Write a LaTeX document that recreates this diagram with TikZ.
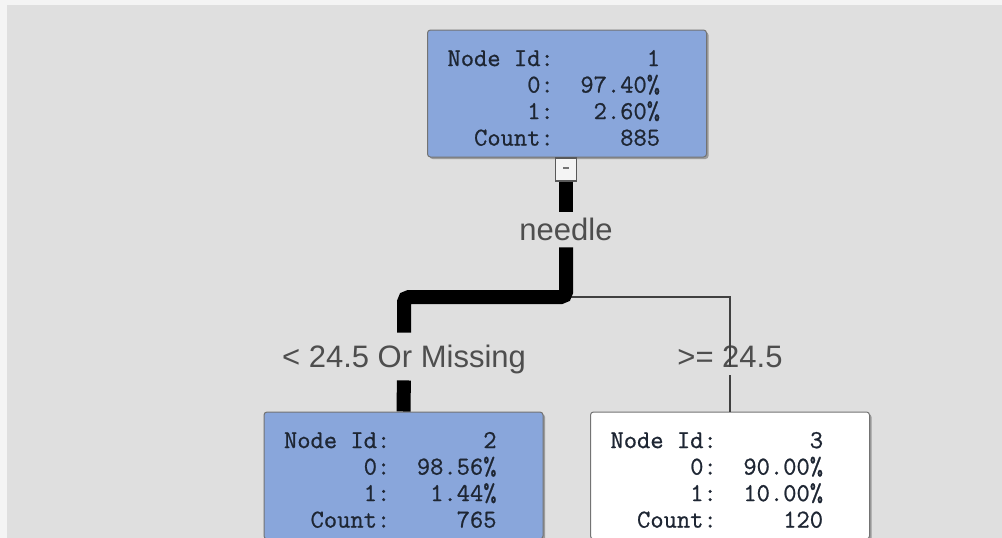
\documentclass[tikz,border=0pt]{standalone}
\usepackage{fontspec}
\setmainfont{Liberation Sans}
\newfontfamily\monofnt[FakeBold=0.8]{Latin Modern Mono}
\usetikzlibrary{shadows}
\definecolor{bggray}{HTML}{DFDFDF}
\definecolor{edgewhite}{HTML}{F4F4F4}
\definecolor{nodeblue}{RGB}{137,166,219}
\definecolor{labgray}{HTML}{4E4E4E}
\definecolor{nodetext}{HTML}{1E2633}
\newcommand\mgap[1]{\hspace*{#1\fontcharwd\font`0}}
\newcommand\firstrow{\rule{0pt}{25pt}}
\begin{document}
\begin{tikzpicture}[x=1pt,y=-1pt,
  tnode/.style={rectangle, rounded corners=3pt, draw=black!55, line width=1pt,
    minimum width=279pt, minimum height=127pt, inner xsep=20pt, inner ysep=0pt,
    text width=239pt, align=left, text=nodetext,
    font=\monofnt\fontsize{25.8}{26.5}\selectfont,
    drop shadow={shadow xshift=2pt, shadow yshift=-2pt, fill=black!50, opacity=0.7}},
  minbox/.style={rectangle, draw=black!65, line width=1.3pt, fill=edgewhite,
    minimum width=21pt, minimum height=23pt, inner sep=0pt, text=black!55},
  lab/.style={inner sep=0pt, outer sep=0pt, anchor=base, text=labgray,
    font=\fontsize{31}{36}\selectfont},
  thickl/.style={line width=14pt, black, rounded corners=5pt},
  thinl/.style={line width=1.8pt, black!75}]
\useasboundingbox (0,0) rectangle (1002,538);
\clip (0,0) rectangle (1002,538);
\fill[edgewhite] (0,0) rectangle (1002,538);
\fill[bggray] (7,5) rectangle (1002,538);

% nodes
\node[tnode, fill=nodeblue] (n1) at (567,93.5) {%
\firstrow Node\mgap{1}Id:\mgap{7}1\\
\mgap{6}0:\mgap{2}97.40\%\\
\mgap{6}1:\mgap{3}2.60\%\\
\mgap{2}Count:\mgap{5}885};
\node[minbox] (mb) at (566,169.5) {\rule[0.5ex]{6pt}{1.6pt}};

\node[tnode, fill=nodeblue] (n2) at (403.5,475.5) {%
\firstrow Node\mgap{1}Id:\mgap{7}2\\
\mgap{6}0:\mgap{2}98.56\%\\
\mgap{6}1:\mgap{3}1.44\%\\
\mgap{2}Count:\mgap{5}765};

\node[tnode, fill=white] (n3) at (730,475.5) {%
\firstrow Node\mgap{1}Id:\mgap{7}3\\
\mgap{6}0:\mgap{2}90.00\%\\
\mgap{6}1:\mgap{2}10.00\%\\
\mgap{2}Count:\mgap{5}120};

% labels
\node[lab] (nd) at (566,240) {needle};
\node[lab] (lt) at (404,367) {< 24.5 Or Missing};
\node[lab] (gt) at (730,367) {>= 24.5};

% junction coordinates
\coordinate (j) at (566,297);
\coordinate (k) at (404,297);

% thin branch
\draw[thinl] (j) -| (gt.base);
\draw[thinl, shorten <=8pt] (gt.south) -- (n3.north);

% thick branch
\draw[thickl, shorten >=5.5pt] (mb.south) -- (nd.north);
\draw[thickl, shorten <=7pt, shorten >=12pt] (nd.south) -- (j) -- (k) -- (lt.north);
\draw[thickl, shorten <=7pt] (lt.south) -- (n2.north);
\end{tikzpicture}
\end{document}
